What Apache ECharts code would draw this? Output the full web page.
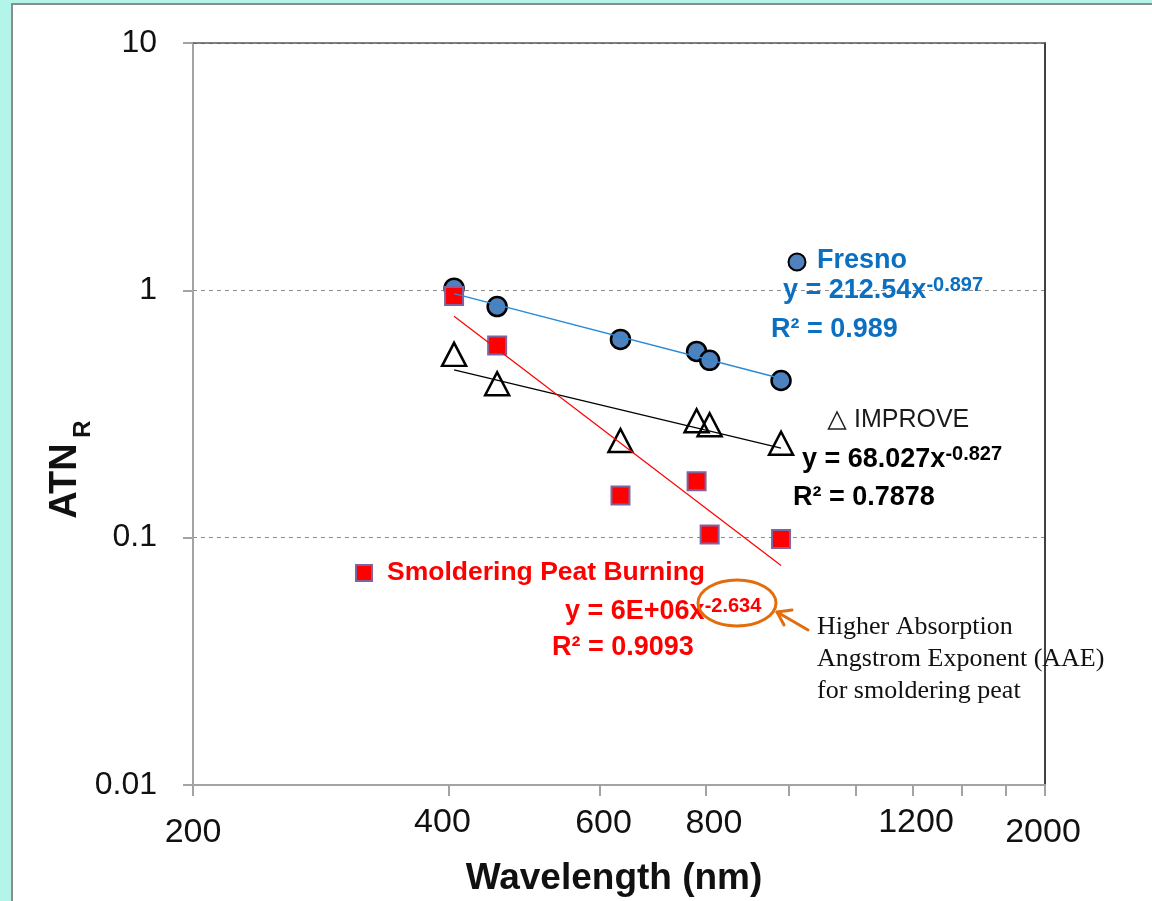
<!DOCTYPE html>
<html>
<head>
<meta charset="utf-8">
<script src="https://cdn.jsdelivr.net/npm/echarts@6/dist/echarts.min.js"></script>
<style>
  html, body { margin: 0; padding: 0; width: 1152px; height: 901px; overflow: hidden; background: #b3f6e9; }
  #panel { position: absolute; left: 11px; top: 3px; width: 1300px; height: 1100px; background: #fff; border: 2px solid #8c8c8c; }
  #chart { position: absolute; left: 0; top: 0; width: 1152px; height: 901px; }
</style>
</head>
<body>
<div id="panel"></div>
<div id="chart"></div>
<script>
// ---- data ----
const wavelength = [405, 455, 635, 780, 808, 980];
const fresno  = [1.02, 0.86, 0.633, 0.566, 0.521, 0.432];
const improve = [0.551, 0.419, 0.247, 0.297, 0.286, 0.241];
const peat    = [0.948, 0.599, 0.148, 0.169, 0.103, 0.0988];
// fitted power-law trendlines (straight on log-log), end points
const trendX       = [405, 980];
const fresnoTrend  = [0.97, 0.44];
const improveTrend = [0.477, 0.23];
const peatTrend    = [0.785, 0.0771];
const yTickLabels  = ['0.01', '0.1', '1', '10'];
const xTickValues  = [200, 400, 600, 800, 1000, 1200, 1400, 1600, 1800, 2000];
const xLabelValues = [200, 400, 600, 800, 1400, 2000];
const xLabelTexts  = ['200', '400', '600', '800', '1200', '2000'];

const pairs = (xs, ys) => xs.map((x, i) => [x, ys[i]]);

const chart = echarts.init(document.getElementById('chart'), null, { renderer: 'canvas' });

const SANS = '"Liberation Sans", Arial, sans-serif';
const SERIF = '"Liberation Serif", "Times New Roman", serif';

chart.setOption({
  animation: false,
  backgroundColor: 'transparent',
  grid: { left: 193, right: 107, top: 43, bottom: 116, containLabel: false },
  xAxis: [
    { type: 'log', logBase: 10, min: 200, max: 2000,
      axisLine: { show: true, onZero: false, lineStyle: { color: '#a3a3a3', width: 2 } },
      axisTick: { show: false }, axisLabel: { show: false }, splitLine: { show: false } },
    { type: 'log', logBase: 10, min: 200, max: 2000, position: 'top',
      axisLine: { show: true, onZero: false, lineStyle: { color: '#5a5a5a', width: 1.5 } },
      axisTick: { show: false }, axisLabel: { show: false }, splitLine: { show: false } }
  ],
  yAxis: [
    { type: 'log', logBase: 10, min: 0.01, max: 10,
      axisLine: { show: true, onZero: false, lineStyle: { color: '#a3a3a3', width: 2 } },
      axisTick: { show: true, inside: false, length: 10, lineStyle: { color: '#a3a3a3', width: 2 } },
      axisLabel: { margin: 36, fontSize: 32, fontFamily: SANS, color: '#111',
        formatter: v => yTickLabels[Math.round(Math.log10(v)) + 2] },
      splitLine: { show: true, lineStyle: { type: [4, 4], color: '#8c8c8c', width: 1 } } },
    { type: 'log', logBase: 10, min: 0.01, max: 10, position: 'right',
      axisLine: { show: true, onZero: false, lineStyle: { color: '#404040', width: 2 } },
      axisTick: { show: false }, axisLabel: { show: false }, splitLine: { show: false } }
  ],
  series: [
    { name: 'Fresno', type: 'scatter', data: pairs(wavelength, fresno), symbol: 'circle', symbolSize: 19, z: 2,
      itemStyle: { color: '#4f81bd', borderColor: '#000', borderWidth: 2.5, opacity: 1 } },
    { name: 'IMPROVE', type: 'scatter', data: pairs(wavelength, improve), symbol: 'triangle', symbolSize: [24, 23], z: 2,
      itemStyle: { color: 'rgba(255,255,255,0)', borderColor: '#000', borderWidth: 2.5, opacity: 1 } },
    { name: 'Smoldering Peat Burning', type: 'scatter', data: pairs(wavelength, peat), symbol: 'rect', symbolSize: 18, z: 3,
      itemStyle: { color: '#ff0000', borderColor: '#8064a2', borderWidth: 2, opacity: 1 } },
    { name: 'Fresno trend', type: 'line', data: pairs(trendX, fresnoTrend), showSymbol: false, symbol: 'none', z: 4,
      lineStyle: { color: '#2a8ad6', width: 1.5 } },
    { name: 'IMPROVE trend', type: 'line', data: pairs(trendX, improveTrend), showSymbol: false, symbol: 'none', z: 4,
      lineStyle: { color: '#000', width: 1.2 } },
    { name: 'Peat trend', type: 'line', data: pairs(trendX, peatTrend), showSymbol: false, symbol: 'none', z: 4,
      lineStyle: { color: '#ff0000', width: 1.2 } }
  ]
});

// ---- graphics: custom x ticks/labels, titles, annotations ----
const xPix = v => chart.convertToPixel({ xAxisIndex: 0 }, v);
const yPix = v => chart.convertToPixel({ yAxisIndex: 0 }, v);
const yBottom = yPix(0.01);

const g = [];
xTickValues.forEach(v => {
  const x = Math.round(xPix(v));
  g.push({ type: 'line', silent: true, z: 10,
    shape: { x1: x, y1: yBottom, x2: x, y2: yBottom + 11 },
    style: { stroke: '#a3a3a3', lineWidth: 2 } });
});
const xLabelDy = [48, 38, 39, 39, 38, 48];
const xLabelDx = [0, -7, 4, 8, 3, -2];
xLabelValues.forEach((v, i) => {
  g.push({ type: 'text', silent: true, z: 10,
    x: xPix(v) + xLabelDx[i], y: yBottom + xLabelDy[i],
    style: { text: xLabelTexts[i], font: '34px ' + SANS, fill: '#111',
      textAlign: 'center', textVerticalAlign: 'middle', align: 'center', verticalAlign: 'middle' } });
});

function txt(text, x, y, font, fill, extra) {
  return { type: 'text', silent: true, z: 20, x: x, y: y,
    style: Object.assign({ text: text, font: font, fill: fill,
      textAlign: 'left', textVerticalAlign: 'middle', align: 'left', verticalAlign: 'middle' }, extra || {}) };
}
function eq(main, sup, x, y, color) {
  return { type: 'text', silent: true, z: 20, x: x, y: y,
    style: { text: '{m|' + main + '}{s|' + sup + '}', fill: color,
      textAlign: 'left', textVerticalAlign: 'middle', align: 'left', verticalAlign: 'middle',
      rich: {
        m: { fontFamily: SANS, fontWeight: 'bold', fontSize: 27, lineHeight: 32, color: color },
        s: { fontFamily: SANS, fontWeight: 'bold', fontSize: 20, lineHeight: 18, color: color, verticalAlign: 'top' }
      } } };
}

// axis titles
g.push(txt('Wavelength (nm)', 614, 879, 'bold 37px ' + SANS, '#111',
  { textAlign: 'center', align: 'center' }));
g.push({ type: 'text', silent: true, z: 20, x: 66, y: 481, rotation: Math.PI / 2,
  style: { text: 'ATN', font: 'bold 38px ' + SANS, fill: '#111', textAlign: 'center', align: 'center',
    textVerticalAlign: 'middle', verticalAlign: 'middle' } });
g.push({ type: 'text', silent: true, z: 20, x: 83, y: 429, rotation: Math.PI / 2,
  style: { text: 'R', font: 'bold 24px ' + SANS, fill: '#111', textAlign: 'center', align: 'center',
    textVerticalAlign: 'middle', verticalAlign: 'middle' } });

// Fresno key + fit
const BLUE = '#0b6fc2';
g.push({ type: 'circle', silent: true, z: 20, shape: { cx: 797, cy: 262, r: 8.5 },
  style: { fill: '#4f81bd', stroke: '#000', lineWidth: 2 } });
g.push(txt('Fresno', 817, 261, 'bold 27px ' + SANS, BLUE));
g.push(eq('y = 212.54x', '-0.897', 783, 291, BLUE));
g.push(txt('R² = 0.989', 771, 330, 'bold 27px ' + SANS, BLUE));

// IMPROVE key + fit
g.push({ type: 'polygon', silent: true, z: 20, shape: { points: [[837, 412], [828.5, 429], [845.5, 429]] },
  style: { fill: '#fff', stroke: '#222', lineWidth: 1.5 } });
g.push(txt('IMPROVE', 854, 420, '25px ' + SANS, '#1a1a1a'));
g.push(eq('y = 68.027x', '-0.827', 802, 460, '#000'));
g.push(txt('R² = 0.7878', 793, 498, 'bold 27px ' + SANS, '#000'));

// Peat key + fit
g.push({ type: 'rect', silent: true, z: 20, shape: { x: 356, y: 565, width: 16, height: 16 },
  style: { fill: '#ff0000', stroke: '#8064a2', lineWidth: 2 } });
g.push(txt('Smoldering Peat Burning', 387, 573, 'bold 26.5px ' + SANS, '#ff0000'));
g.push(eq('y = 6E+06x', '-2.634', 565, 612, '#ff0000'));
g.push(txt('R² = 0.9093', 552, 648, 'bold 27px ' + SANS, '#ff0000'));

// orange highlight + arrow + note
const ORANGE = '#e46c0a';
g.push({ type: 'ellipse', silent: true, z: 21, shape: { cx: 737, cy: 603, rx: 39, ry: 23 },
  style: { fill: 'none', stroke: ORANGE, lineWidth: 3 } });
g.push({ type: 'polyline', silent: true, z: 21, shape: { points: [[808, 630], [777, 612]] },
  style: { stroke: ORANGE, lineWidth: 3, lineCap: 'round', fill: null } });
g.push({ type: 'polyline', silent: true, z: 21, shape: { points: [[792, 610], [777, 612], [784, 625]] },
  style: { stroke: ORANGE, lineWidth: 3, lineCap: 'round', lineJoin: 'round', fill: null } });
g.push(txt('Higher Absorption', 817, 627, '26px ' + SERIF, '#111'));
g.push(txt('Angstrom Exponent (AAE)', 817, 659, '26px ' + SERIF, '#111'));
g.push(txt('for smoldering peat', 817, 691, '26px ' + SERIF, '#111'));

chart.setOption({ graphic: g });
</script>
</body>
</html>
